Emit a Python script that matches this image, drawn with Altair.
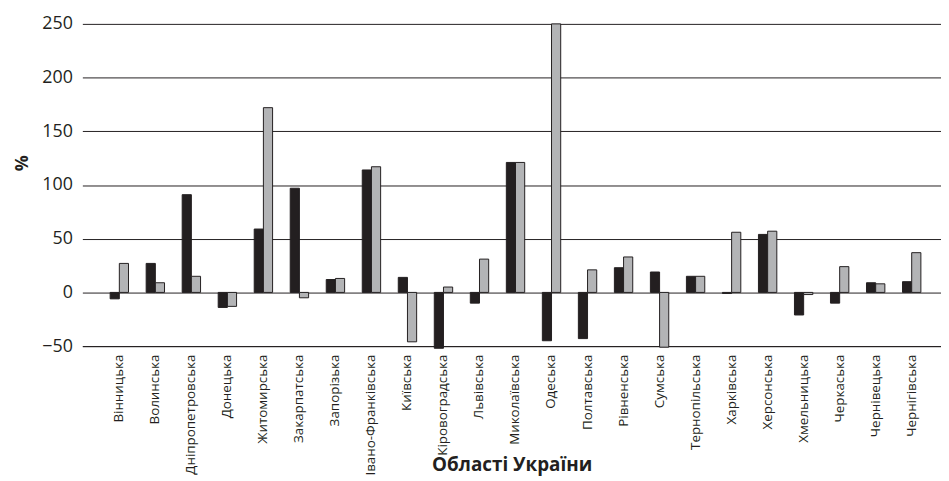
import altair as alt
import pandas as pd

regions = ["Вінницька", "Волинська", "Дніпропетровська", "Донецька", "Житомирська",
           "Закарпатська", "Запорізька", "Івано-Франківська", "Київська", "Кіровоградська",
           "Львівська", "Миколаївська", "Одеська", "Полтавська", "Рівненська", "Сумська",
           "Тернопільська", "Харківська", "Херсонська", "Хмельницька", "Черкаська",
           "Чернівецька", "Чернігівська"]
series_a = [-6, 27, 91, -14, 59, 97, 12, 114, 14, -52, -10, 121, -45, -43, 23, 19, 15, -1, 54, -21, -10, 9, 10]
series_b = [27, 9, 15, -13, 172, -5, 13, 117, -46, 5, 31, 121, 250, 21, 33, -51, 15, 56, 57, -2, 24, 8, 37]
series_names = ["A", "B"]

rows = []
for r, a, b in zip(regions, series_a, series_b):
    rows.append({"region": r, "series": series_names[0], "value": a})
    rows.append({"region": r, "series": series_names[1], "value": b})
df = pd.DataFrame(rows)

FONT = "Open Sans"

chart = alt.Chart(df).mark_bar(stroke="#231f20", strokeWidth=1).encode(
    x=alt.X("region:N", sort=regions,
            scale=alt.Scale(paddingInner=0.49, paddingOuter=0.665, align=0.58),
            axis=alt.Axis(title="Області України", labelAngle=-90, labelAlign="right",
                          labelBaseline="middle", labelFontSize=13.5, labelPadding=8,
                          labelFont=FONT, labelColor="#231f20", ticks=False,
                          domainColor="#231f20", domainWidth=1,
                          titleFont=FONT, titleFontSize=19, titleFontWeight="bold",
                          titleColor="#231f20", titleY=119, titleBaseline="middle")),
    xOffset=alt.XOffset("series:N", scale=alt.Scale(paddingInner=0, paddingOuter=0)),
    y=alt.Y("value:Q", scale=alt.Scale(domain=[-50, 250], nice=False),
            axis=alt.Axis(title="%", values=[-50, 0, 50, 100, 150, 200, 250],
                          labelFont=FONT, labelFontSize=18, labelColor="#231f20",
                          labelPadding=10, ticks=False, domain=False,
                          gridColor="#231f20", gridWidth=1, gridOpacity=1,
                          titleFont=FONT, titleFontSize=18, titleFontWeight="bold",
                          titleColor="#231f20", titleX=-60, titleY=140,
                          titleAlign="center", titleBaseline="middle")),
    color=alt.Color("series:N", scale=alt.Scale(domain=series_names, range=["#231f20", "#b3b4b6"]),
                    legend=None),
).properties(
    width=866, height=325,
    autosize=alt.AutoSizeParams(type="none"),
    padding={"left": 75, "top": 14, "right": 0, "bottom": 132},
).configure_view(stroke=None)

chart.save("out.html", embed_options={"renderer": "svg", "actions": False})
